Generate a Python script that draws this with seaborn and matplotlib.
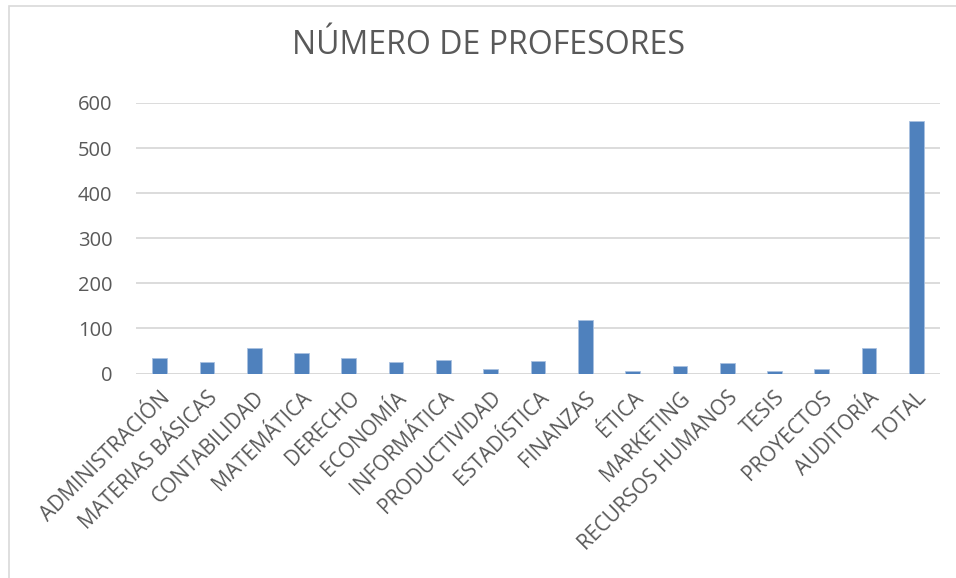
import matplotlib
matplotlib.use("Agg")
import matplotlib.pyplot as plt
import seaborn as sns
import pandas as pd
from matplotlib.patches import Rectangle

categories = ["ADMINISTRACIÓN", "MATERIAS BÁSICAS", "CONTABILIDAD", "MATEMÁTICA",
              "DERECHO", "ECONOMÍA", "INFORMÁTICA", "PRODUCTIVIDAD", "ESTADÍSTICA",
              "FINANZAS", "ÉTICA", "MARKETING", "RECURSOS HUMANOS", "TESIS",
              "PROYECTOS", "AUDITORÍA", "TOTAL"]
values = [34, 25, 56, 46, 34, 25, 31, 10, 27, 118, 5, 17, 23, 5, 10, 56, 560]
yticks = [0, 100, 200, 300, 400, 500, 600]

sns.set_theme(style="white")
plt.rcParams['font.family'] = ['Open Sans', 'DejaVu Sans']

df = pd.DataFrame({"cat": categories, "val": values})

fig = plt.figure(figsize=(9.56, 5.78), dpi=100)
ax = fig.add_axes([136/956, 1-373.5/578, 804/956, (373.5-103)/578])

sns.barplot(data=df, x="cat", y="val", color="#4F81BD", width=0.31,
            saturation=1, ax=ax, zorder=3, edgecolor="#A9C1E0", linewidth=0.6)

ax.set_ylim(0, 600)
ax.set_yticks(yticks)
ax.set_yticklabels([str(v) for v in yticks], fontsize=14.5, color="#595959")
ax.set_xlim(-0.5, len(categories) - 0.5)
ax.grid(axis="y", color="#D9D9D9", linewidth=1.3, zorder=0)
ax.grid(axis="x", visible=False)
for s in ["top", "right", "left", "bottom"]:
    ax.spines[s].set_visible(False)
ax.axhline(0, color="#D9D9D9", linewidth=1.3, zorder=1)
ax.tick_params(axis="y", length=0, pad=17)
ax.tick_params(axis="x", length=0, pad=10)
ax.set_xlabel("")
ax.set_ylabel("")
ax.set_xticks(range(len(categories)))
ax.set_xticklabels(categories, rotation=45, ha="right", rotation_mode="anchor",
                   fontsize=15, color="#595959")

fig.text(489/956, 1-46/578, "NÚMERO DE PROFESORES", ha="center", va="center",
         fontsize=23, color="#595959")

fig.patches.append(Rectangle((9/956, -0.1), 1.2, 1 - 6/578 + 0.1,
                             transform=fig.transFigure, fill=False,
                             edgecolor="#D9D9D9", linewidth=1.2))

fig.savefig("out.png", dpi=100, facecolor="white")
